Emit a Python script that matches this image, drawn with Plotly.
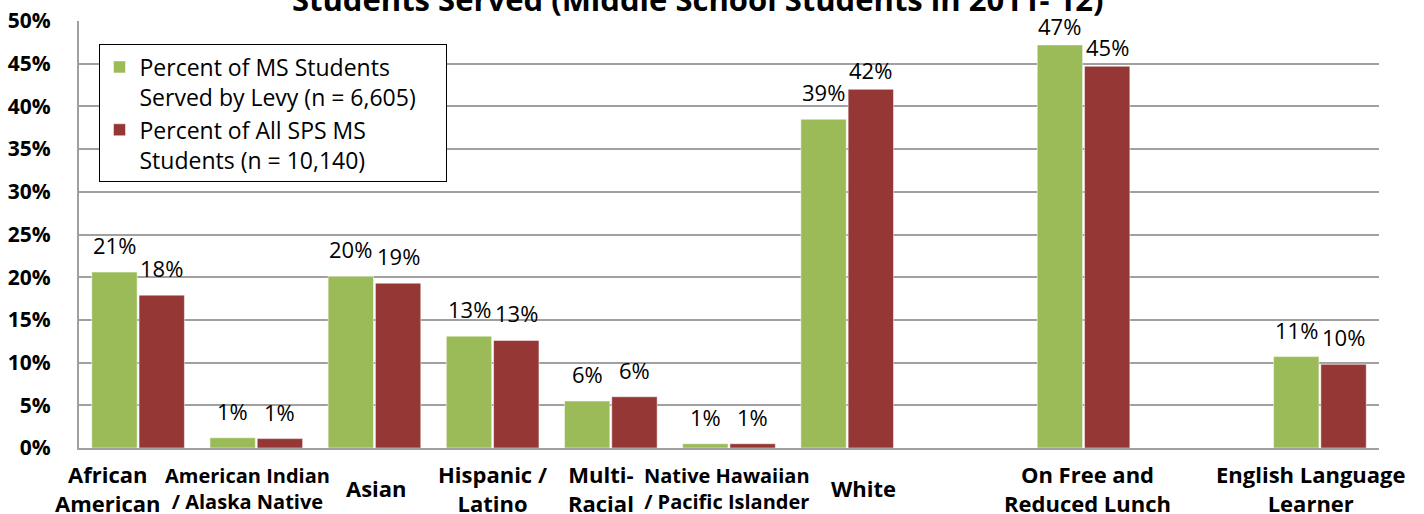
import plotly.graph_objects as go

# Categories (empty slots keep the spacing of the original chart)
CATEGORIES = ["African<br>American", "American Indian<br>/ Alaska Native", "Asian",
              "Hispanic /<br>Latino", "Multi-<br>Racial",
              "Native Hawaiian<br>/ Pacific Islander", "White", "gap1",
              "On Free and<br>Reduced Lunch", "gap2", "English Language<br>Learner"]
SMALL_LABELS = ["American Indian<br>/ Alaska Native", "Native Hawaiian<br>/ Pacific Islander"]
# small horizontal nudges of the category labels, as in the original
LABEL_NUDGE = [-30, -9, 2, 0, -10, -2, 16, 0, 4, 0, -9]

LEVY = [20.6, 1.2, 20.1, 13.1, 5.5, 0.5, 38.5, None, 47.2, None, 10.7]
LEVY_TEXT = ["21%", "1%", "20%", "13%", "6%", "1%", "39%", "", "47%", "", "11%"]
ALL_SPS = [17.9, 1.1, 19.3, 12.6, 6.0, 0.5, 42.0, None, 44.7, None, 9.8]
ALL_SPS_TEXT = ["18%", "1%", "19%", "13%", "6%", "1%", "42%", "", "45%", "", "10%"]

GREEN = "#9BBB59"
RED = "#953735"
FONT = "Open Sans"
PAD = "\u00a0" * 4  # extra room on the right of the legend box

fig = go.Figure()
fig.add_trace(go.Bar(x=CATEGORIES, y=LEVY,
                     name="Percent of MS Students<br>Served by Levy (n = 6,605)" + PAD,
                     marker=dict(color=GREEN, line=dict(color="white", width=0.5))))
fig.add_trace(go.Bar(x=CATEGORIES, y=ALL_SPS, name="Percent of All SPS MS<br>Students (n = 10,140)",
                     marker=dict(color=RED, line=dict(color="white", width=0.5))))

# value labels above the bars (tall bars get their labels squeezed closer, like Excel)
slot_px = 1300 / len(CATEGORIES)
shift = slot_px * 0.8 / 4
for vals, texts, sgn in [(LEVY, LEVY_TEXT, -1), (ALL_SPS, ALL_SPS_TEXT, 1)]:
    for cat, v, t in zip(CATEGORIES, vals, texts):
        if v is None:
            continue
        fig.add_annotation(x=cat, y=v, text=t, showarrow=False, yanchor="bottom",
                           xshift=sgn * shift, yshift=10 if v < 40 else 2,
                           font=dict(family=FONT, size=22, color="black"))

# category labels
for cat, nudge in zip(CATEGORIES, LABEL_NUDGE):
    if cat.startswith("gap"):
        continue
    size = 20 if cat in SMALL_LABELS else 22
    fig.add_annotation(x=cat, y=-0.094, yref="paper", text="<b>" + cat + "</b>",
                       showarrow=False, yanchor="middle", xshift=nudge,
                       font=dict(family=FONT, size=size, color="black"))

fig.update_layout(
    width=1424, height=514,
    margin=dict(l=79, r=45, t=21, b=66),
    plot_bgcolor="white", paper_bgcolor="white",
    barmode="group", bargap=0.2, bargroupgap=0.04,
    title=dict(text="<b>Students Served (Middle School Students in 2011- 12)</b>",
               x=0.49, xanchor="center", y=1.0, yanchor="middle",
               font=dict(family=FONT, size=31, color="black")),
    legend=dict(x=0.015, y=0.945, xanchor="left", yanchor="top",
                bgcolor="white", bordercolor="black", borderwidth=1,
                valign="top", tracegroupgap=0,
                font=dict(family=FONT, size=23, color="black")),
    xaxis=dict(range=[-0.5, len(CATEGORIES) - 0.5], showticklabels=False,
               showline=True, linecolor="#a0a0a0", linewidth=2,
               showgrid=False, ticks="", automargin=False),
    yaxis=dict(range=[0, 50], dtick=5, ticksuffix="%", showline=True,
               linecolor="#a0a0a0", linewidth=2, gridcolor="#a0a0a0", gridwidth=1.5,
               tickfont=dict(family=FONT, size=21, color="black", weight="bold"),
               ticklabelstandoff=22, ticks="", zeroline=False, automargin=False),
)

fig.write_html("out.html", config={"displayModeBar": False},
               post_script="document.body.style.margin='0px';")
